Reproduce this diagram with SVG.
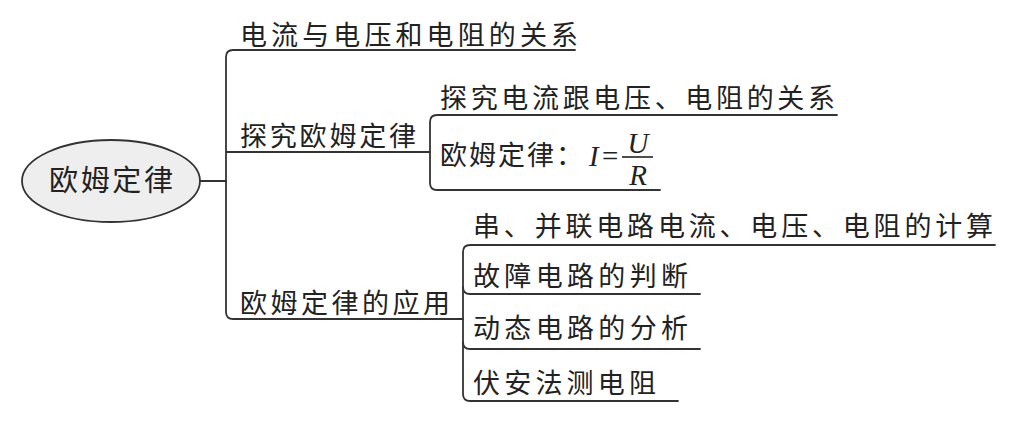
<svg xmlns="http://www.w3.org/2000/svg" width="1017" height="422" viewBox="0 0 1017 422">
<style>
.t{font-family:"Noto Sans CJK SC","Noto Sans",sans-serif;font-size:27px;fill:#222}
.m{font-family:"Liberation Serif",serif;font-size:29px;fill:#222}
.i{font-style:italic}
.c{fill:none;stroke:#333;stroke-width:1.8;stroke-linejoin:round;stroke-linecap:round}
</style>
<rect width="1017" height="422" fill="#fff"/>
<g id="connectors" class="c">
<path d="M200,181 H226"/>
<path d="M575,50 H233 Q226,50 226,57 V312 Q226,319 233,319 H463"/>
<path d="M226,152 H430"/>
<path d="M837,115 H437 Q430,115 430,122 V183 Q430,190 437,190 H660"/>
<path d="M995,245 H470 Q463,245 463,252 V394 Q463,401 470,401 H678"/>
<path d="M463,287 Q463,294 470,294 H700"/>
<path d="M463,342 Q463,349 470,349 H700"/>
</g>
<g id="root">
<ellipse cx="111" cy="181" rx="89" ry="41" fill="#eeeeee" stroke="#333" stroke-width="1.8"/>
<text class="t" x="111" y="191" text-anchor="middle" style="font-size:29px" textLength="124" lengthAdjust="spacing">欧姆定律</text>
</g>
<g id="n1"><text class="t" x="240" y="45" textLength="338" lengthAdjust="spacing">电流与电压和电阻的关系</text></g>
<g id="n2"><text class="t" x="240" y="146" textLength="176" lengthAdjust="spacing">探究欧姆定律</text></g>
<g id="n21"><text class="t" x="440" y="108" textLength="395" lengthAdjust="spacing">探究电流跟电压、电阻的关系</text></g>
<g id="n22">
<text class="t" x="440" y="165" textLength="143" lengthAdjust="spacing">欧姆定律：</text>
<text class="m i" x="589" y="166">I</text>
<text class="m" x="602" y="166">=</text>
<line x1="622" y1="157" x2="653" y2="157" stroke="#222" stroke-width="1.6"/>
<text class="m i" x="638" y="153" text-anchor="middle">U</text>
<text class="m i" x="638" y="185" text-anchor="middle">R</text>
</g>
<g id="n3"><text class="t" x="240" y="313" textLength="210" lengthAdjust="spacing">欧姆定律的应用</text></g>
<g id="n31"><text class="t" x="473" y="236" textLength="520" lengthAdjust="spacing">串、并联电路电流、电压、电阻的计算</text></g>
<g id="n32"><text class="t" x="473" y="286" textLength="215" lengthAdjust="spacing">故障电路的判断</text></g>
<g id="n33"><text class="t" x="473" y="338" textLength="215" lengthAdjust="spacing">动态电路的分析</text></g>
<g id="n34"><text class="t" x="473" y="393" textLength="183" lengthAdjust="spacing">伏安法测电阻</text></g>
</svg>
